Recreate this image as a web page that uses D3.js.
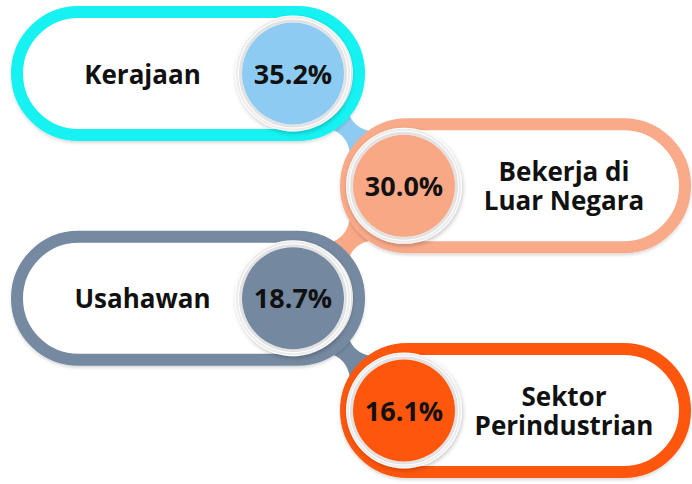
<!DOCTYPE html>
<html>
<head>
<meta charset="utf-8">
<script src="https://cdn.jsdelivr.net/npm/d3@7"></script>
<style>
  html, body { margin: 0; padding: 0; background: #fff; }
  svg { display: block; }
</style>
</head>
<body>
<svg id="mount" width="692" height="484"></svg>
<script>
var labels = [["Kerajaan"], ["Bekerja di", "Luar Negara"], ["Usahawan"], ["Sektor", "Perindustrian"]];
var values = [35.2, 30.0, 18.7, 16.1];
var borderColors = ["#12F2F2", "#F8AA89", "#7489A0", "#FE570D"];
var circleColors = ["#8DCBF2", "#F9A886", "#7489A0", "#FE570D"];

var fontFamily = "'Open Sans', sans-serif";
var svg = d3.select("#mount");

var rows = d3.range(values.length);
var y = d3.scalePoint().domain(rows).range([73.5, 410.5]);

// left / right layout of the pills
var side = function(i) { return i % 2 === 0 ? "left" : "right"; };
var pillX = { left: 11, right: 340 };
var pillW = { left: 354, right: 351 };
var circleX = { left: 293, right: 404 };
var labelX = { left: 142.5, right: 564 };
var pillH = 135;
var border = 12;
var ringR = 58;
var fillR = 51;

var defs = svg.append("defs");
var shadow = defs.append("filter").attr("id", "shadow")
  .attr("x", "-20%").attr("y", "-20%").attr("width", "140%").attr("height", "140%");
shadow.append("feDropShadow")
  .attr("dx", 1).attr("dy", 2).attr("stdDeviation", 2)
  .attr("flood-color", "#000").attr("flood-opacity", 0.22);

var soft = defs.append("filter").attr("id", "soft")
  .attr("x", "-10%").attr("y", "-10%").attr("width", "120%").attr("height", "130%");
soft.append("feDropShadow")
  .attr("dx", 0).attr("dy", 2).attr("stdDeviation", 1.5)
  .attr("flood-color", "#000").attr("flood-opacity", 0.15);

// necks between consecutive circles
function neckPath(ax, ay, bx, by, r, hw) {
  var dx = bx - ax, dy = by - ay;
  var d = Math.sqrt(dx * dx + dy * dy);
  var ux = dx / d, uy = dy / d;
  var nx = -uy, ny = ux;
  var a = 40 * Math.PI / 180;
  var off = r * Math.sin(a), along = r * Math.cos(a);
  var mx = (ax + bx) / 2, my = (ay + by) / 2;
  var h = 2 * hw - off;
  function pt(cx, cy, s, sign) {
    return [cx + ux * along * s + nx * off * sign, cy + uy * along * s + ny * off * sign];
  }
  var a1 = pt(ax, ay, 1, 1), b1 = pt(bx, by, -1, 1);
  var b2 = pt(bx, by, -1, -1), a2 = pt(ax, ay, 1, -1);
  var p = d3.path();
  p.moveTo(ax, ay);
  p.lineTo(a1[0], a1[1]);
  p.quadraticCurveTo(mx + nx * h, my + ny * h, b1[0], b1[1]);
  p.lineTo(bx, by);
  p.lineTo(b2[0], b2[1]);
  p.quadraticCurveTo(mx - nx * h, my - ny * h, a2[0], a2[1]);
  p.closePath();
  return p.toString();
}

svg.append("g").selectAll("path")
  .data(rows.slice(0, rows.length - 1))
  .join("path")
  .attr("fill", function(i) { return circleColors[i]; })
  .attr("d", function(i) {
    return neckPath(circleX[side(i)], y(i), circleX[side(i + 1)], y(i + 1), 56, 9);
  });

// pills
svg.append("g").selectAll("rect")
  .data(rows)
  .join("rect")
  .attr("x", function(i) { return pillX[side(i)] + border / 2; })
  .attr("y", function(i) { return y(i) - pillH / 2 + border / 2; })
  .attr("width", function(i) { return pillW[side(i)] - border; })
  .attr("height", pillH - border)
  .attr("rx", (pillH - border) / 2)
  .attr("fill", "#fff")
  .attr("stroke", function(i) { return borderColors[i]; })
  .attr("stroke-width", border)
  .attr("filter", "url(#soft)");

// circles
var circles = svg.append("g").selectAll("g")
  .data(rows)
  .join("g")
  .attr("transform", function(i) { return "translate(" + circleX[side(i)] + "," + y(i) + ")"; });

circles.append("circle")
  .attr("r", ringR)
  .attr("fill", "#fff")
  .attr("filter", "url(#shadow)");

circles.append("circle")
  .attr("r", ringR - 2)
  .attr("fill", "none")
  .attr("stroke", "#ececec")
  .attr("stroke-width", 2);

circles.append("circle")
  .attr("r", fillR + 1.5)
  .attr("fill", "none")
  .attr("stroke", "#e2e2e2")
  .attr("stroke-width", 3);

circles.append("circle")
  .attr("r", fillR)
  .attr("fill", function(i) { return circleColors[i]; });

circles.append("text")
  .attr("text-anchor", "middle")
  .attr("y", 10)
  .attr("font-family", fontFamily)
  .attr("font-weight", 700)
  .attr("font-size", 27)
  .attr("fill", "#111")
  .text(function(i) { return d3.format(".1f")(values[i]) + "%"; });

// labels, one text element per line
var lineH = 29;
var labelLines = [];
rows.forEach(function(i) {
  labels[i].forEach(function(s, k) {
    labelLines.push({ row: i, k: k, n: labels[i].length, text: s });
  });
});

svg.append("g").selectAll("text")
  .data(labelLines)
  .join("text")
  .attr("text-anchor", "middle")
  .attr("font-family", fontFamily)
  .attr("font-weight", 700)
  .attr("font-size", 26)
  .attr("fill", "#111")
  .attr("x", function(d) { return labelX[side(d.row)]; })
  .attr("y", function(d) { return y(d.row) + 10 - (d.n - 1) * lineH / 2 + d.k * lineH; })
  .text(function(d) { return d.text; });
</script>
</body>
</html>
